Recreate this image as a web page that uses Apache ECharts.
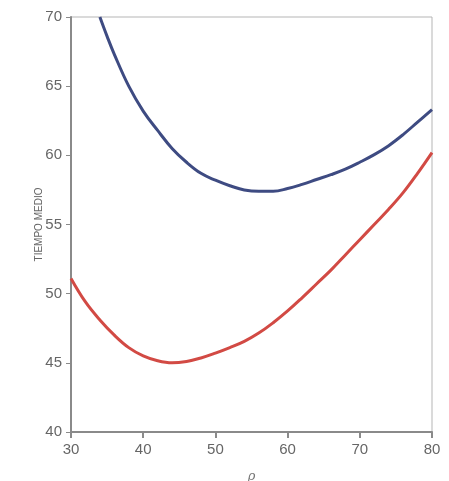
<!DOCTYPE html>
<html>
<head>
<meta charset="utf-8">
<script src="https://cdn.jsdelivr.net/npm/echarts@6/dist/echarts.min.js"></script>
<style>
  html, body { margin: 0; padding: 0; background: #fff; }
  #chart { width: 449px; height: 481px; }
</style>
</head>
<body>
<div id="chart"></div>
<script>
// valores
var xBlue = [34, 35, 36, 38, 40, 42, 44, 46, 48, 50, 52, 54, 56, 58, 60, 62, 64, 66, 68, 70, 72, 74, 76, 78, 80];
var yBlue = [70.0, 68.6, 67.3, 65.0, 63.2, 61.8, 60.5, 59.5, 58.7, 58.2, 57.8, 57.5, 57.4, 57.4, 57.6, 57.9, 58.25, 58.6, 59.0, 59.5, 60.05, 60.7, 61.5, 62.4, 63.3];
var xRed = [30, 32, 34, 36, 38, 40, 42, 44, 46, 48, 50, 52, 54, 56, 58, 60, 62, 64, 66, 68, 70, 72, 74, 76, 78, 80];
var yRed = [51.1, 49.4, 48.1, 47.0, 46.1, 45.5, 45.15, 45.0, 45.1, 45.35, 45.7, 46.1, 46.55, 47.15, 47.9, 48.75, 49.7, 50.7, 51.7, 52.8, 53.9, 55.0, 56.1, 57.3, 58.7, 60.2];
var xTicks = [30, 40, 50, 60, 70, 80];
var yTicks = [40, 45, 50, 55, 60, 65, 70];

function pairs(xs, ys) {
    return xs.map(function (x, i) { return [x, ys[i]]; });
}

var chart = echarts.init(document.getElementById('chart'));
var option = {
    backgroundColor: '#fff',
    animation: false,
    grid: {
        left: 71,
        right: 17,
        top: 17,
        bottom: 49,
        containLabel: false,
        outerBoundsMode: 'none',
        show: true,
        borderColor: '#b5b5b5',
        borderWidth: 1
    },
    xAxis: {
        type: 'value',
        min: xTicks[0],
        max: xTicks[xTicks.length - 1],
        interval: 10,
        name: 'ρ',
        nameLocation: 'middle',
        nameGap: 38,
        nameTextStyle: { color: '#777', fontSize: 13, fontStyle: 'italic', fontFamily: 'DejaVu Serif' },
        axisLine: { lineStyle: { color: '#8a8a8a', width: 2 } },
        axisTick: { show: true, length: 6, lineStyle: { color: '#8a8a8a', width: 2 } },
        axisLabel: { color: '#666', fontSize: 15, fontFamily: 'Liberation Sans', margin: 10 },
        splitLine: { show: false }
    },
    yAxis: {
        type: 'value',
        min: yTicks[0],
        max: yTicks[yTicks.length - 1],
        interval: 5,
        name: 'TIEMPO MEDIO',
        nameLocation: 'middle',
        nameGap: 27,
        nameRotate: 90,
        nameMoveOverlap: false,
        nameTextStyle: { color: '#666', fontSize: 10, fontFamily: 'Liberation Sans' },
        axisLine: { lineStyle: { color: '#8a8a8a', width: 2 } },
        axisTick: { show: true, length: 5, lineStyle: { color: '#8a8a8a' } },
        axisLabel: { color: '#666', fontSize: 15, fontFamily: 'Liberation Sans', margin: 9 },
        splitLine: { show: false }
    },
    series: [
        {
            type: 'line',
            data: pairs(xBlue, yBlue),
            smooth: 0.4,
            showSymbol: false,
            lineStyle: { color: '#3e4b82', width: 3 }
        },
        {
            type: 'line',
            data: pairs(xRed, yRed),
            smooth: 0.4,
            showSymbol: false,
            lineStyle: { color: '#d24a44', width: 3 }
        }
    ]
};
chart.setOption(option);
</script>
</body>
</html>
